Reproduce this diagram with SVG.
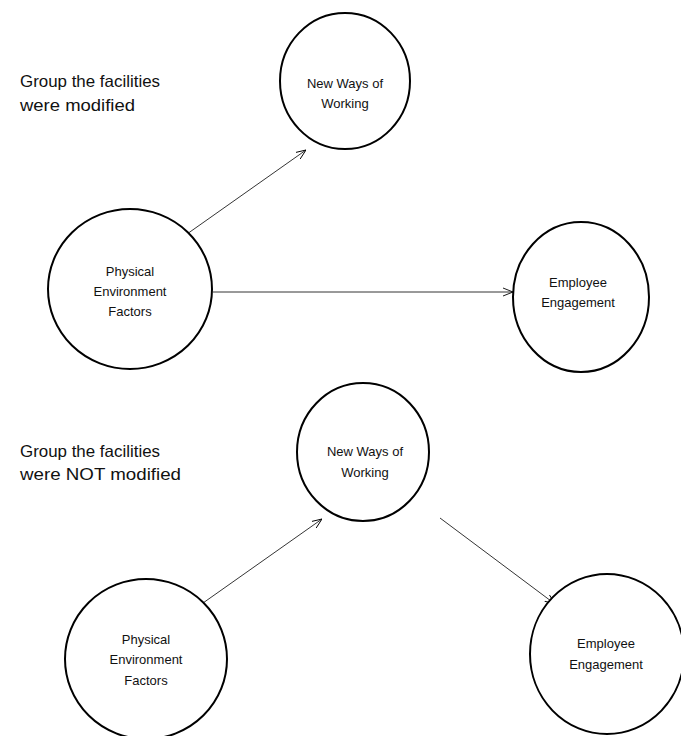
<svg xmlns="http://www.w3.org/2000/svg" width="681" height="736" viewBox="0 0 681 736">
<defs>
<style>
.node{fill:#fff;stroke:#000;stroke-width:2}
.lbl{font-family:"Liberation Sans",Arial,sans-serif;font-size:13px;fill:#111;text-anchor:middle}
.grp{font-family:"Liberation Sans",Arial,sans-serif;font-size:16.5px;fill:#111}
.edge{stroke:#000;stroke-width:0.8;fill:none;marker-end:url(#arr)}
</style>
<marker id="arr" viewBox="0 0 10 10" refX="10" refY="5" markerWidth="10" markerHeight="10" markerUnits="userSpaceOnUse" orient="auto">
<path d="M0,1 L10,5 L0,9" fill="none" stroke="#000" stroke-width="0.9"/>
</marker>
</defs>
<rect width="681" height="736" fill="#fff"/>
<g id="label-top"><text class="grp" x="20" y="87" textLength="140" lengthAdjust="spacingAndGlyphs">Group the facilities</text><text class="grp" x="20" y="111" textLength="115" lengthAdjust="spacingAndGlyphs">were modified</text></g>
<g id="label-bottom"><text class="grp" x="20" y="457" textLength="140" lengthAdjust="spacingAndGlyphs">Group the facilities</text><text class="grp" x="20" y="480" textLength="161" lengthAdjust="spacingAndGlyphs">were NOT modified</text></g>
<g id="connectors">
<line class="edge" x1="187" y1="234" x2="306" y2="150"/>
<line class="edge" x1="213" y1="292" x2="513" y2="292"/>
<line class="edge" x1="203" y1="603" x2="322" y2="519"/>
<line class="edge" x1="440" y1="518" x2="555" y2="604"/>
</g>
<g id="nww-top"><ellipse class="node" cx="345" cy="81" rx="65" ry="68"/><text class="lbl" x="345" y="88">New Ways of</text><text class="lbl" x="345" y="108">Working</text></g>
<g id="pef-top"><ellipse class="node" cx="130" cy="289" rx="82" ry="80"/><text class="lbl" x="130" y="276">Physical</text><text class="lbl" x="130" y="296">Environment</text><text class="lbl" x="130" y="316">Factors</text></g>
<g id="ee-top"><ellipse class="node" cx="581" cy="297" rx="68" ry="75"/><text class="lbl" x="578" y="287">Employee</text><text class="lbl" x="578" y="307">Engagement</text></g>
<g id="nww-bottom"><ellipse class="node" cx="363" cy="452" rx="66" ry="69"/><text class="lbl" x="365" y="456">New Ways of</text><text class="lbl" x="365" y="477">Working</text></g>
<g id="pef-bottom"><ellipse class="node" cx="146" cy="659" rx="81" ry="80"/><text class="lbl" x="146" y="644">Physical</text><text class="lbl" x="146" y="664">Environment</text><text class="lbl" x="146" y="685">Factors</text></g>
<g id="ee-bottom"><ellipse class="node" cx="607" cy="654" rx="77" ry="80"/><text class="lbl" x="606" y="648">Employee</text><text class="lbl" x="606" y="669">Engagement</text></g>
</svg>
